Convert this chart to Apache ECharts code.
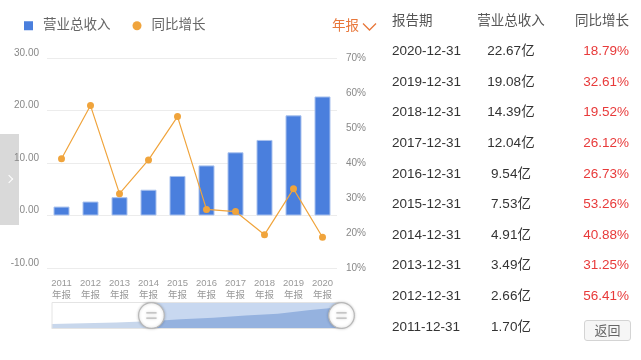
<!DOCTYPE html>
<html>
<head>
<meta charset="utf-8">
<script src="https://cdn.jsdelivr.net/npm/echarts@6/dist/echarts.min.js"></script>
<style>
html,body{margin:0;padding:0;background:#fff;}
body{width:641px;height:360px;position:relative;overflow:hidden;font-family:"Liberation Sans",Arial,"Noto Sans CJK SC",sans-serif;}
#tab{position:absolute;left:0;top:134px;width:19px;height:91px;background:#d9d9d9;z-index:0;}
#tab:after{content:"";position:absolute;left:6px;top:42px;width:5px;height:5px;border-top:1.3px solid #fff;border-right:1.3px solid #fff;transform:rotate(45deg);}
#chart{position:absolute;left:0;top:0;width:641px;height:360px;z-index:1;}
#table{position:absolute;left:0;top:0;width:641px;height:360px;z-index:2;pointer-events:none;}
.cell{position:absolute;font-size:13.5px;line-height:16px;height:16px;white-space:nowrap;}
.btn{position:absolute;left:584px;top:320px;width:45px;height:19px;border:1px solid #d4d4d4;border-radius:3px;background:#f6f6f6;color:#666;font-size:13px;line-height:19px;text-align:center;}
</style>
</head>
<body>
<div id="tab"></div>
<div id="chart"></div>
<div id="table"></div>
<script>
// ---- data ----
const years = ['2011','2012','2013','2014','2015','2016','2017','2018','2019','2020'];
const periodLabel = '年报';
const revenue = [1.70, 2.66, 3.49, 4.91, 7.53, 9.54, 12.04, 14.39, 19.08, 22.67];
const growth = [41.2, 56.41, 31.25, 40.88, 53.26, 26.73, 26.12, 19.52, 32.61, 18.79];
const tableGrowthShown = [false, true, true, true, true, true, true, true, true, true];
const leftTicks = {min: -10, max: 30, interval: 10};
const rightTicks = {min: 10, max: 70, interval: 10};
const zoomRange = {start: 34, end: 100};
const headers = ['报告期', '营业总收入', '同比增长'];
const seriesNames = ['营业总收入', '同比增长'];

// ---- table ----
const tbl = document.getElementById('table');
function cell(text, style, color){
  const d = document.createElement('div');
  d.className = 'cell';
  d.textContent = text;
  Object.assign(d.style, style);
  d.style.color = color;
  tbl.appendChild(d);
}
const rowY0 = 20.5, rowH = 30.6;
cell(headers[0], {left:'392px', top:(rowY0-8)+'px'}, '#555');
cell(headers[1], {left:'461px', width:'100px', textAlign:'center', top:(rowY0-8)+'px'}, '#555');
cell(headers[2], {right:(641-629)+'px', textAlign:'right', top:(rowY0-8)+'px'}, '#555');
for (let k = 0; k < years.length; k++) {
  const i = years.length - 1 - k;
  const y = rowY0 + rowH*(k+1) - 8;
  cell(years[i] + '-12-31', {left:'392px', top:y+'px'}, '#333');
  cell(revenue[i].toFixed(2) + '亿', {left:'461px', width:'100px', textAlign:'center', top:y+'px'}, '#333');
  if (tableGrowthShown[i]) {
    cell(growth[i].toFixed(2) + '%', {right:(641-629)+'px', textAlign:'right', top:y+'px'}, '#e83a3a');
  } else {
    const b = document.createElement('div');
    b.className = 'btn';
    b.textContent = '返回';
    tbl.appendChild(b);
  }
}

// ---- chart ----
const chart = echarts.init(document.getElementById('chart'), null, {renderer:'canvas'});
const font = '"Liberation Sans", Arial, "Noto Sans CJK SC", sans-serif';
const option = {
  animation: false,
  backgroundColor: 'transparent',
  textStyle: {fontFamily: font},
  legend: {
    left: 24, top: 19, padding: 0,
    itemWidth: 9, itemHeight: 9, itemGap: 22,
    itemStyle: {borderWidth: 0},
    data: [{name: seriesNames[0], icon: 'rect'}, {name: seriesNames[1], icon: 'circle'}],
    textStyle: {fontSize: 13.5, color: '#666', padding: [0,0,0,5], fontFamily: font}
  },
  graphic: [
    {type: 'text', left: 332, top: 20, style: {text: '年报', fill: '#e8773a', font: '13.5px ' + font}},
    {type: 'polyline', shape: {points: [[363,23.5],[369.5,30],[376,23.5]]}, style: {stroke: '#e8773a', lineWidth: 1.3, fill: null}}
  ],
  grid: [
    {left: 47, right: 304, top: 58, height: 210},
    {left: 49, right: 301, top: 400, height: 10}
  ],
  xAxis: [
    {
      type: 'category', gridIndex: 0, data: years,
      axisLine: {show: false}, axisTick: {show: false},
      axisLabel: {formatter: v => v + '\n' + periodLabel, color: '#999', fontSize: 9.5, lineHeight: 11.5, margin: 10, interval: 0}
    },
    {type: 'category', gridIndex: 1, data: years, show: false}
  ],
  yAxis: [
    {
      type: 'value', gridIndex: 0, position: 'left',
      min: leftTicks.min, max: leftTicks.max, interval: leftTicks.interval,
      axisLine: {show: false}, axisTick: {show: false},
      splitLine: {lineStyle: {color: '#ececec', width: 1}},
      axisLabel: {formatter: v => v.toFixed(2), color: '#888', fontSize: 10, margin: 8, verticalAlign: 'bottom'}
    },
    {
      type: 'value', gridIndex: 0, position: 'right',
      min: rightTicks.min, max: rightTicks.max, interval: rightTicks.interval,
      axisLine: {show: false}, axisTick: {show: false}, splitLine: {show: false},
      axisLabel: {formatter: v => v + '%', color: '#888', fontSize: 10, margin: 9}
    },
    {type: 'value', gridIndex: 1, show: false}
  ],
  dataZoom: [{
    type: 'slider', xAxisIndex: 1,
    start: zoomRange.start, end: zoomRange.end,
    left: 49, right: 301, top: 302, height: 27,
    showDetail: false, brushSelect: false, moveHandleSize: 0,
    borderColor: '#e4e4e4', backgroundColor: '#fff',
    fillerColor: 'rgba(125,163,220,0.42)',
    showDataShadow: true,
    dataBackground: {lineStyle: {opacity: 0}, areaStyle: {color: '#c8d7ec', opacity: 1}},
    selectedDataBackground: {lineStyle: {opacity: 0}, areaStyle: {color: '#8aa8d8', opacity: 0.75}},
    handleIcon: 'path://M-10,0A10,10,0,1,1,10,0A10,10,0,1,1,-10,0ZM-4,-2L4,-2M-4,2L4,2',
    handleSize: '95%',
    handleStyle: {color: '#fff', borderColor: '#b8b8b8', borderWidth: 1.2, shadowBlur: 3, shadowColor: 'rgba(0,0,0,0.2)'},
    emphasis: {handleStyle: {color: '#fff', borderColor: '#b8b8b8'}}
  }],
  series: [
    {
      name: seriesNames[0], type: 'bar', xAxisIndex: 0, yAxisIndex: 0,
      data: revenue, barWidth: 16,
      itemStyle: {color: '#4a7fdd', borderColor: '#a9c2ee', borderWidth: 1}
    },
    {
      name: seriesNames[1], type: 'line', xAxisIndex: 0, yAxisIndex: 1,
      data: growth, symbol: 'circle', symbolSize: 7, showAllSymbol: true,
      itemStyle: {color: '#f0a43c'}, lineStyle: {color: '#f0a43c', width: 1.2}
    },
    {
      type: 'line', xAxisIndex: 1, yAxisIndex: 2, data: revenue,
      symbol: 'none', lineStyle: {opacity: 0}, silent: true
    }
  ]
};
chart.setOption(option);
</script>
</body>
</html>
